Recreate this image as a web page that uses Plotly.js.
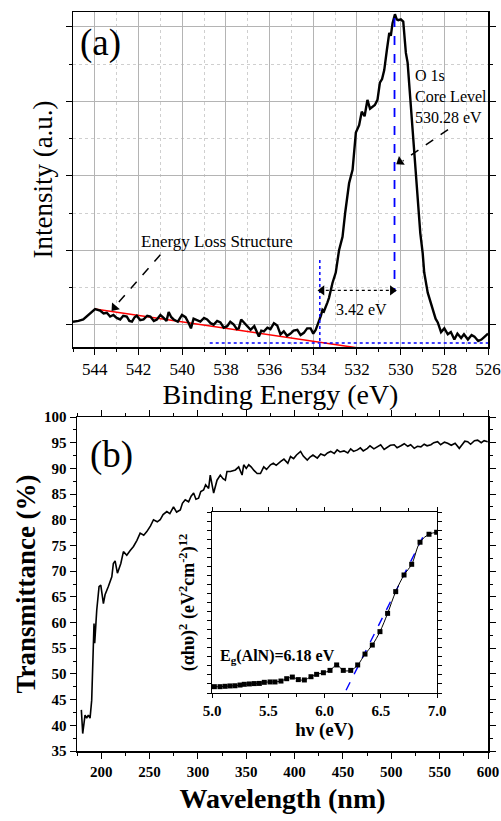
<!DOCTYPE html>
<html>
<head>
<meta charset="utf-8">
<script src="https://cdn.plot.ly/plotly-3.0.1.min.js"></script>
<style>html,body{margin:0;padding:0;background:#fff;}#chart{width:501px;height:821px;}</style>
</head>
<body>
<div id="chart"></div>
<script>
// ---------- Panel (a): XPS O 1s ----------
const bindingEnergy = [545, 544.75, 544.53, 544.3, 544.15, 543.99, 543.76, 543.6, 543.45, 543.3, 543.15, 543.0, 542.84, 542.7, 542.54, 542.42, 542.3, 542.18, 542.08, 541.92, 541.77, 541.6, 541.46, 541.3, 541.16, 541.0, 540.85, 540.72, 540.62, 540.5, 540.39, 540.2, 540.01, 539.85, 539.7, 539.6, 539.48, 539.3, 539.17, 539.0, 538.86, 538.7, 538.56, 538.4, 538.25, 538.1, 537.94, 537.8, 537.64, 537.5, 537.41, 537.3, 537.18, 537.0, 536.87, 536.7, 536.49, 536.38, 536.26, 536.1, 535.96, 535.8, 535.65, 535.5, 535.35, 535.2, 535.04, 534.9, 534.73, 534.58, 534.43, 534.28, 534.12, 534.0, 533.89, 533.8, 533.74, 533.65, 533.58, 533.51, 533.35, 533.28, 533.12, 532.97, 532.82, 532.66, 532.54, 532.36, 532.2, 532.05, 531.9, 531.78, 531.65, 531.52, 531.4, 531.29, 531.18, 531.06, 530.95, 530.85, 530.75, 530.63, 530.52, 530.45, 530.37, 530.26, 530.18, 530.11, 529.99, 529.88, 529.76, 529.68, 529.53, 529.38, 529.3, 529.22, 529.1, 528.99, 528.92, 528.76, 528.53, 528.4, 528.3, 528.15, 528.0, 527.84, 527.7, 527.54, 527.4, 527.23, 527.1, 526.92, 526.75, 526.62, 526.45, 526.3, 526.15, 526.0];
const intensity = [0.04, 0.05, 0.07, 0.13, 0.18, 0.21, 0.19, 0.15, 0.16, 0.11, 0.13, 0.09, 0.07, 0.12, 0.11, 0.05, 0.04, 0.10, 0.12, 0.06, 0.07, 0.12, 0.11, 0.05, 0.07, 0.13, 0.09, 0.05, 0.17, 0.10, 0.07, 0.04, 0.13, 0.10, 0.02, -0.05, 0.08, 0.06, 0.04, 0.09, 0.07, 0.02, 0.00, 0.05, 0.03, -0.04, -0.02, 0.04, 0.00, -0.06, -0.05, 0.07, 0.03, -0.04, -0.07, -0.02, -0.16, -0.08, -0.09, -0.04, -0.06, 0.02, -0.01, -0.13, -0.09, -0.15, -0.12, -0.08, -0.07, -0.14, -0.11, -0.05, -0.05, -0.12, -0.07, 0.0, 0.04, 0.12, 0.20, 0.18, 0.30, 0.36, 0.56, 0.70, 1.0, 1.18, 1.5, 1.9, 2.08, 2.58, 2.68, 2.86, 2.80, 3.02, 2.90, 2.93, 2.95, 3.02, 3.25, 3.30, 3.42, 3.69, 3.92, 3.88, 4.05, 4.17, 4.10, 4.09, 4.10, 4.07, 3.65, 3.52, 2.89, 2.35, 1.95, 1.63, 1.23, 0.96, 0.70, 0.43, 0.20, 0.08, 0.03, -0.10, -0.05, -0.13, -0.10, -0.20, -0.12, -0.18, -0.13, -0.20, -0.14, -0.16, -0.22, -0.20, -0.16, -0.12];
const lossLineE = [544, 531.2];
const lossLineI = [0.21, -0.345];
const coreLevelE = [530.28, 530.28];
const coreLevelI = [4.12, 0.44];
const onsetE = [533.7, 533.7];
const onsetI = [0.87, -0.3];
const baselineE = [538.74, 526];
const baselineI = [-0.245, -0.245];
const gapE = [533.7, 530.28];
const gapI = [0.46, 0.46];

// ---------- Panel (b): transmittance ----------
const wavelength = [179.5, 180.9, 183.3, 185, 186.7, 188.5, 190.2, 191.9, 192.6, 193.3, 195.4, 197.8, 199.6, 202.3, 204, 207.4, 211, 212.6, 214.4, 216.8, 220.3, 223, 226.5, 230, 233.4, 237, 240.3, 244, 247.2, 251, 254.1, 258, 261, 264, 267.9, 271, 274.8, 278, 281.8, 284, 286.9, 290.4, 293, 295.6, 298, 300.7, 303, 305.9, 308, 311.1, 312.8, 316.3, 319.8, 323.2, 326, 328.4, 330.1, 333.6, 337, 338.8, 342.2, 345.7, 347.4, 350, 352.6, 355, 358, 361.3, 364.7, 368.1, 371, 375.1, 378, 381, 385.4, 389, 393, 395.8, 399, 402, 406.2, 409, 413.1, 416, 419, 423.5, 427, 431, 434, 437.3, 441, 444, 447, 451.1, 455, 458, 461, 465, 468, 471, 475.3, 478, 482, 485.7, 489, 492.6, 496, 499, 503, 506, 510, 513.4, 517, 520, 523.7, 527, 530.6, 534, 537, 541, 544, 547.9, 551, 555, 558.3, 562, 566, 570.3, 574, 576, 579, 582, 586, 589.3, 593, 596, 599.7];
const transmittance = [43.0, 38.4, 42.0, 41.4, 42.0, 41.4, 44.9, 55.3, 59.8, 56.0, 62.4, 67.0, 67.3, 63.7, 65.4, 67.0, 68.9, 71.5, 72.0, 69.6, 71.5, 73.8, 73.1, 74.0, 74.8, 76.0, 77.4, 77.0, 77.7, 78.8, 80.0, 79.6, 80.0, 81.0, 81.6, 81.2, 82.5, 81.5, 81.9, 83.2, 83.9, 83.5, 84.6, 85.2, 84.0, 84.2, 85.5, 85.8, 86.8, 86.1, 88.7, 85.2, 87.7, 88.7, 88.0, 87.7, 89.4, 89.4, 89.7, 89.7, 90.3, 88.7, 90.7, 90.0, 90.7, 90.3, 89.6, 89.0, 89.0, 90.3, 89.8, 90.7, 91.0, 90.6, 91.3, 91.8, 91.0, 92.3, 91.9, 92.6, 93.3, 92.4, 91.6, 92.2, 92.6, 92.0, 92.8, 92.5, 93.0, 93.3, 92.9, 93.6, 93.2, 93.4, 93.0, 93.8, 93.3, 93.6, 94.0, 93.4, 93.9, 94.4, 93.8, 94.2, 94.6, 93.7, 94.2, 94.5, 94.6, 94.0, 94.4, 94.8, 94.3, 94.6, 93.9, 94.3, 94.2, 94.7, 94.4, 94.6, 95.0, 95.2, 94.6, 95.1, 94.9, 94.5, 94.9, 93.9, 94.8, 95.3, 95.2, 94.7, 95.4, 95.5, 95.0, 95.4, 95.2];

// ---------- Inset: Tauc plot ----------
const photonEnergy = [5.021, 5.071, 5.116, 5.16, 5.204, 5.249, 5.287, 5.332, 5.376, 5.421, 5.465, 5.516, 5.56, 5.613, 5.664, 5.714, 5.767, 5.821, 5.88, 5.93, 5.99, 6.049, 6.108, 6.167, 6.233, 6.295, 6.36, 6.425, 6.493, 6.561, 6.633, 6.707, 6.775, 6.849, 6.929, 6.997];
const taucValue = [0.35, 0.35, 0.37, 0.39, 0.40, 0.44, 0.48, 0.50, 0.52, 0.53, 0.59, 0.61, 0.61, 0.66, 0.79, 0.88, 0.74, 0.72, 0.90, 1.03, 1.12, 1.25, 1.55, 1.25, 1.25, 1.55, 2.15, 2.65, 3.39, 4.40, 5.6, 6.52, 7.11, 8.33, 8.77, 8.88];
const fitEnergy = [6.12, 6.90];
const fitValue = [-0.74, 8.93];

// arrow heads (decoration): position and pointing angle
const headE = [543.1, 530.03, 533.6, 530.38];
const headI = [0.23, 2.19, 0.46, 0.46];
const headAngle = [221, 236, 270, 90];

const SERIF = 'Liberation Serif';
const W = 501, H = 821;
const px = v => v / W;          // horizontal pixel -> paper
const py = v => 1 - v / H;      // vertical pixel (from top) -> paper

const traces = [
  {x: lossLineE, y: lossLineI, xaxis: 'x', yaxis: 'y', mode: 'lines', line: {color: '#ff0000', width: 1.5}, hoverinfo: 'skip'},
  {x: baselineE, y: baselineI, xaxis: 'x', yaxis: 'y', mode: 'lines', line: {color: '#0000ff', width: 1.5, dash: 'dot'}, hoverinfo: 'skip'},
  {x: bindingEnergy, y: intensity, xaxis: 'x', yaxis: 'y', mode: 'lines', line: {color: '#000', width: 2.4}},
  {x: coreLevelE, y: coreLevelI, xaxis: 'x', yaxis: 'y', mode: 'lines', line: {color: '#0000ff', width: 1.8, dash: 'dash'}, hoverinfo: 'skip'},
  {x: onsetE, y: onsetI, xaxis: 'x', yaxis: 'y', mode: 'lines', line: {color: '#0000ff', width: 1.5, dash: 'dot'}, hoverinfo: 'skip'},
  {x: gapE, y: gapI, xaxis: 'x', yaxis: 'y', mode: 'lines', line: {color: '#000', width: 1.2, dash: 'dot'}, hoverinfo: 'skip'},
  {x: headE, y: headI, xaxis: 'x', yaxis: 'y', mode: 'markers', marker: {symbol: 'triangle-up', size: 9, color: '#000', angle: headAngle, line: {width: 0}}, hoverinfo: 'skip'},
  {x: wavelength, y: transmittance, xaxis: 'x2', yaxis: 'y2', mode: 'lines', line: {color: '#000', width: 1.6}},
  {x: fitEnergy, y: fitValue, xaxis: 'x3', yaxis: 'y3', mode: 'lines', line: {color: '#0000ff', width: 1.4, dash: 'dash'}, hoverinfo: 'skip'},
  {x: photonEnergy, y: taucValue, xaxis: 'x3', yaxis: 'y3', mode: 'lines+markers', line: {color: '#000', width: 1, shape: 'spline'}, marker: {symbol: 'square', size: 5, color: '#000'}}
];

const axisBase = {showline: true, linecolor: '#000', linewidth: 1.5, zeroline: false, automargin: false, ticks: 'outside', tickcolor: '#000', tickwidth: 1};

const layout = {
  width: W, height: H,
  margin: {l: 0, r: 0, t: 0, b: 0},
  paper_bgcolor: '#fff', plot_bgcolor: 'rgba(0,0,0,0)',
  showlegend: false,
  font: {family: SERIF, color: '#000'},
  xaxis: Object.assign({}, axisBase, {
    domain: [px(73), px(488)], anchor: 'y', range: [545, 526], tick0: 0, dtick: 2, ticklen: 6, mirror: true,
    showgrid: true, gridcolor: '#b4b4b4', gridwidth: 1,
    minor: {dtick: 1, ticks: 'outside', ticklen: 3, tickcolor: '#000', showgrid: true, gridcolor: '#cfcfcf', griddash: 'dot', gridwidth: 1},
    tickfont: {family: SERIF, size: 17, color: '#000'},
    title: {text: 'Binding Energy (eV)', font: {family: SERIF, size: 28, color: '#000'}, standoff: 2}
  }),
  yaxis: Object.assign({}, axisBase, {
    domain: [py(347), py(12)], anchor: 'x', range: [-0.3, 4.2], tick0: 0, dtick: 1, ticklen: 6, mirror: 'ticks',
    showticklabels: false, showgrid: true, gridcolor: '#b4b4b4', gridwidth: 1,
    minor: {dtick: 0.5, ticks: 'outside', ticklen: 3, tickcolor: '#000', showgrid: true, gridcolor: '#cfcfcf', griddash: 'dot', gridwidth: 1},
    title: {text: 'Intensity (a.u.)', font: {family: SERIF, size: 27, color: '#000'}, standoff: 5}
  }),
  xaxis2: Object.assign({}, axisBase, {
    domain: [px(77), px(488)], anchor: 'y2', range: [175, 600], tick0: 0, dtick: 50, ticklen: 6, mirror: 'ticks', showgrid: false,
    minor: {dtick: 25, ticks: 'outside', ticklen: 3, tickcolor: '#000'},
    tickfont: {family: SERIF, size: 15, color: '#000', weight: 'bold'},
    title: {text: 'Wavelength (nm)', font: {family: SERIF, size: 28, color: '#000', weight: 'bold'}, standoff: 10}
  }),
  yaxis2: Object.assign({}, axisBase, {
    domain: [py(751), py(417)], anchor: 'x2', range: [35, 100], tick0: 0, dtick: 5, ticklen: 6, mirror: 'ticks', showgrid: false,
    minor: {dtick: 2.5, ticks: 'outside', ticklen: 3, tickcolor: '#000'},
    tickfont: {family: SERIF, size: 15, color: '#000', weight: 'bold'},
    title: {text: 'Transmittance (%)', font: {family: SERIF, size: 27, color: '#000', weight: 'bold'}, standoff: 0}
  }),
  xaxis3: Object.assign({}, axisBase, {
    domain: [px(212), px(437)], anchor: 'y3', range: [5, 7], tick0: 0, dtick: 0.5, ticklen: 4, mirror: 'ticks', showgrid: false,
    tickformat: '.1f', linewidth: 1,
    minor: {dtick: 0.25, ticks: 'outside', ticklen: 3, tickcolor: '#000'},
    tickfont: {family: SERIF, size: 15, color: '#000', weight: 'bold'},
    title: {text: 'h\u03bd (eV)', font: {family: SERIF, size: 19, color: '#000', weight: 'bold'}, standoff: 2}
  }),
  yaxis3: Object.assign({}, axisBase, {
    domain: [py(693), py(512)], anchor: 'x3', range: [0, 10], tick0: 0, dtick: 0.5, ticklen: 4, mirror: 'ticks', showgrid: false,
    showticklabels: false, linewidth: 1,
    title: {text: '(\u03b1h\u03c5)<sup>2</sup> (eV<sup>2</sup>cm<sup>-2</sup>)<sup>12</sup>', font: {family: SERIF, size: 18, color: '#000', weight: 'bold'}, standoff: 7}
  }),
  shapes: [
    {type: 'line', xref: 'x', yref: 'y', x0: 541.0, y0: 0.94, x1: 543.0, y1: 0.27, line: {color: '#000', width: 1.5, dash: 'dash'}},
    {type: 'line', xref: 'x', yref: 'y', x0: 527.83, y0: 2.62, x1: 529.9, y1: 2.2, line: {color: '#000', width: 1.5, dash: 'dash'}}
  ],
  annotations: [
    {xref: 'paper', yref: 'paper', x: px(78), y: py(43), xanchor: 'left', yanchor: 'middle', text: '(a)', showarrow: false, font: {family: SERIF, size: 37, color: '#000'}},
    {xref: 'x', yref: 'y', x: 538.43, y: 1.12, text: 'Energy Loss Structure', showarrow: false, font: {family: SERIF, size: 17, color: '#000'}},
    {xref: 'x', yref: 'y', x: 531.78, y: 0.21, text: '3.42 eV', showarrow: false, font: {family: SERIF, size: 16, color: '#000'}},
    {xref: 'x', yref: 'y', x: 529.42, y: 3.06, xanchor: 'left', yanchor: 'middle', align: 'left', text: 'O 1s<br>Core Level<br>530.28 eV', showarrow: false, font: {family: SERIF, size: 16, color: '#000'}},
    {xref: 'paper', yref: 'paper', x: px(88), y: py(455), xanchor: 'left', yanchor: 'middle', text: '(b)', showarrow: false, font: {family: SERIF, size: 37, color: '#000'}},
    {xref: 'x3', yref: 'y3', x: 5.05, y: 1.99, xanchor: 'left', yanchor: 'middle', text: 'E<sub>g</sub>(AlN)=6.18 eV', showarrow: false, font: {family: SERIF, size: 16, color: '#000', weight: 'bold'}}
  ]
};

Plotly.newPlot('chart', traces, layout, {displayModeBar: false, staticPlot: true});
</script>
</body>
</html>
